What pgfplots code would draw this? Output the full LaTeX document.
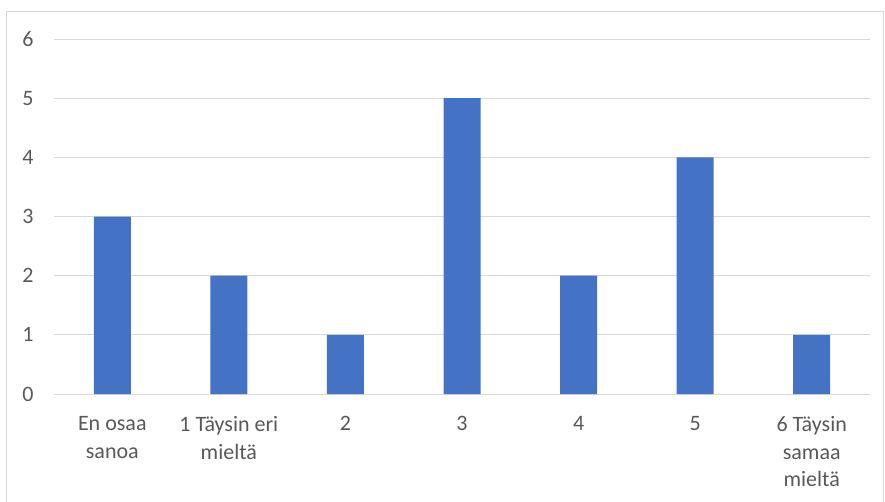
\documentclass[border=0pt]{standalone}
\usepackage{fontspec}
\setmainfont{Carlito}
\usepackage{pgfplots}
\pgfplotsset{compat=1.18}
\definecolor{barblue}{HTML}{4472C4}
\definecolor{gridgray}{HTML}{D9D9D9}
\definecolor{textgray}{HTML}{595959}
\begin{document}
\begin{tikzpicture}[x=1pt,y=1pt]
\useasboundingbox (0,0) rectangle (885,501);
% chart frame (bottom edge falls outside the picture)
\draw[gridgray, line width=1pt] (6,-5) -- (6,489) -- (883,489) -- (883,-5);
\begin{axis}[
    at={(54pt,107pt)}, anchor=south west,
    scale only axis,
    width=816pt, height=355pt,
    ybar, bar width=37pt,
    xmin=-0.5, xmax=6.5,
    ymin=0, ymax=6,
    ytick={0,1,2,3,4,5,6},
    xtick={0,1,2,3,4,5,6},
    xticklabels={{En osaa\\sanoa},{1 Täysin eri\\mieltä},2,3,4,5,{6 Täysin\\samaa\\mieltä}},
    axis line style={draw=none},
    major tick length=0pt,
    ymajorgrids,
    major grid style={gridgray, line width=1pt},
    /pgf/number format/assume math mode=true,
    tick label style={font=\fontsize{22}{27.5}\selectfont, text=textgray},
    yticklabel style={xshift=-17pt},
    xticklabel style={align=center, yshift=-19pt},
    clip=false,
]
\addplot[fill=barblue, draw=none] coordinates {(0,3) (1,2) (2,1) (3,5) (4,2) (5,4) (6,1)};
\end{axis}
\end{tikzpicture}
\end{document}
